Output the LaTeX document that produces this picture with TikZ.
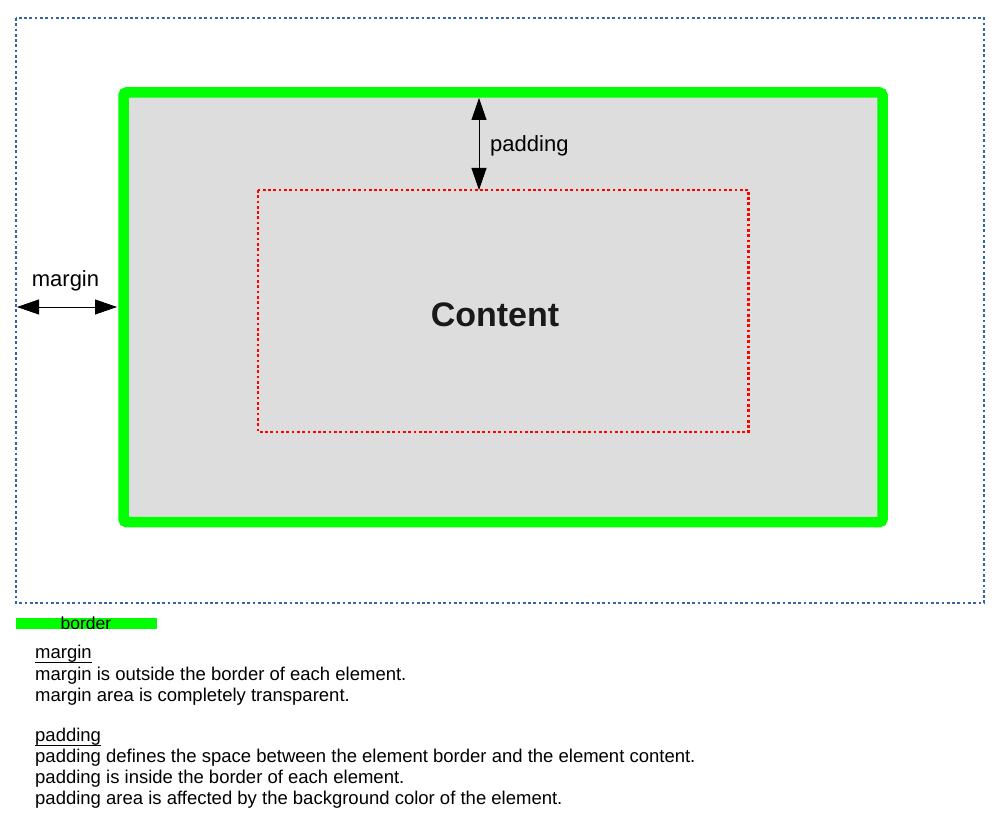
\documentclass[tikz,border=0pt]{standalone}
\usepackage{fontspec}
\setmainfont{Liberation Sans}
\usetikzlibrary{arrows.meta,calc}
\definecolor{marginblue}{HTML}{3465A4}
\definecolor{bordergreen}{HTML}{00FF00}
\definecolor{paddinggray}{HTML}{DDDDDD}
\definecolor{contentred}{HTML}{FF0000}
\tikzset{
  marginbox/.style={draw=marginblue, line width=2.7pt, dash pattern=on 2.7pt off 2.6pt},
  borderbox/.style={draw=bordergreen, fill=paddinggray, line width=10.5pt, rounded corners=3pt},
  contentbox/.style={draw=contentred, line width=2.7pt, dash pattern=on 2.7pt off 2.6pt},
  dimarrow/.style={draw=black, line width=0.8pt, {Triangle[length=22pt,width=15pt]}-{Triangle[length=22pt,width=15pt]}},
  label/.style={inner sep=0pt, font=\fontsize{22}{26}\selectfont},
  note/.style={inner sep=0pt, anchor=base west, font=\fontsize{18.5}{22}\selectfont},
  headrule/.style={draw=black, line width=1pt}
}
\begin{document}
\begin{tikzpicture}[x=1pt, y=-1pt]
  \useasboundingbox (0,0) rectangle (1001,826);
  \fill[white] (0,0) rectangle (1001,826);

  % margin area, border with padding, content area
  \draw[marginbox] (16,18) rectangle (984,603);
  \draw[borderbox] (123.5,92.5) rectangle (882.5,522);
  \draw[contentbox] (258,190) rectangle (748.5,432);

  \node[inner sep=0pt, anchor=base, text=black!90, font=\fontsize{34}{40}\selectfont\bfseries] (content) at (495,326) {Content};

  % padding dimension
  \coordinate (padtop) at (479,98);
  \coordinate (padbot) at (479,190);
  \draw[dimarrow] (padtop) -- (padbot);
  \node[label, anchor=base west] (padlabel) at (490,152) {padding};

  % margin dimension
  \coordinate (marl) at (17,307);
  \coordinate (marr) at (117,307);
  \draw[dimarrow] (marl) -- (marr);
  \node[label, anchor=base] (marlabel) at (65.5,287) {margin};

  % legend
  \fill[bordergreen] (16,618) rectangle (157,629);
  \node[inner sep=0pt, anchor=base, font=\fontsize{17.5}{20}\selectfont] (legend) at (86,629) {border};

  % notes (headings underlined)
  \node[note] (m0) at (35,658) {margin};
  \draw[headrule] ($(m0.base west)+(0,4)$) -- ($(m0.base east)+(0,4)$);
  \node[note] (m1) at (35,680) {margin is outside the border of each element.};
  \node[note] (m2) at (35,701) {margin area is completely transparent.};

  \node[note] (p0) at (35,741) {padding};
  \draw[headrule] ($(p0.base west)+(0,4)$) -- ($(p0.base east)+(0,4)$);
  \node[note] (p1) at (35,762.5) {padding defines the space between the element border and the element content.};
  \node[note] (p2) at (35,783) {padding is inside the border of each element.};
  \node[note] (p3) at (35,804) {padding area is affected by the background color of the element.};
\end{tikzpicture}
\end{document}
